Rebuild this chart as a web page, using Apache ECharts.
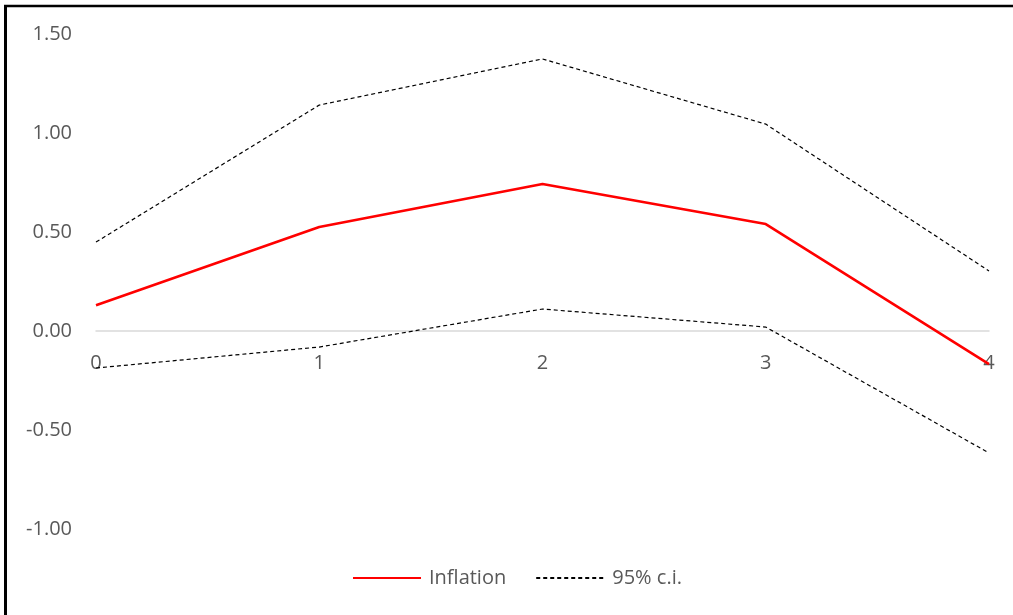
<!DOCTYPE html>
<html>
<head>
<meta charset="utf-8">
<script src="https://cdn.jsdelivr.net/npm/echarts@6/dist/echarts.min.js"></script>
<style>
  html, body { margin: 0; padding: 0; background: #ffffff; }
  #chart { width: 1013px; height: 615px; }
</style>
</head>
<body>
<div id="chart"></div>
<script>
// Horizons (periods after the shock)
const horizons = ['0', '1', '2', '3', '4'];
// Impulse response of inflation and its 95% confidence band
const inflation = [0.13, 0.525, 0.742, 0.54, -0.167];
const ciUpper = [0.449, 1.141, 1.374, 1.045, 0.303];
const ciLower = [-0.187, -0.081, 0.111, 0.02, -0.616];
// Value-axis settings
const yMin = -1.0;
const yMax = 1.5;
const yStep = 0.5;

const FONT = '"Open Sans", "Noto Sans", sans-serif';
const TEXT = '#595959';
const W = 1013, H = 615;
const GRID = { left: 96, right: 24, top: 34, bottom: 86 };

// Lift the category axis (line + labels) up to the y = 0 level
const plotH = H - GRID.top - GRID.bottom;
const zeroLift = plotH * (0 - yMin) / (yMax - yMin);

const chart = echarts.init(document.getElementById('chart'), null, { renderer: 'canvas' });

const ciStyle = { color: '#000000', width: 1.2, type: [4, 3] };

chart.setOption({
  animation: false,
  backgroundColor: '#ffffff',
  textStyle: { fontFamily: FONT, color: TEXT },
  grid: Object.assign({ containLabel: false }, GRID),
  xAxis: {
    type: 'category',
    data: horizons,
    boundaryGap: false,
    offset: -zeroLift,
    axisLine: { onZero: false, lineStyle: { color: '#d9d9d9', width: 1.5 } },
    axisTick: { show: false },
    axisLabel: { color: TEXT, fontSize: 20, fontFamily: FONT, margin: 22 },
    splitLine: { show: false }
  },
  yAxis: {
    type: 'value',
    min: yMin,
    max: yMax,
    interval: yStep,
    axisLine: { show: false },
    axisTick: { show: false },
    splitLine: { show: false },
    axisLabel: {
      color: TEXT,
      fontSize: 20,
      fontFamily: FONT,
      margin: 24,
      formatter: v => v.toFixed(2)
    }
  },
  legend: {
    bottom: 22,
    left: 347,
    itemWidth: 68,
    itemHeight: 12,
    itemGap: 29,
    itemStyle: { opacity: 0 },
    textStyle: { color: TEXT, fontSize: 20, fontFamily: FONT, padding: [0, 0, 0, 3] },
    data: ['Inflation', '95% c.i.']
  },
  series: [
    {
      name: 'Inflation',
      type: 'line',
      data: inflation,
      symbol: 'none',
      lineStyle: { color: '#ff0000', width: 2.6 },
      itemStyle: { color: '#ff0000' },
      z: 3
    },
    {
      name: '95% c.i.',
      type: 'line',
      data: ciUpper,
      symbol: 'none',
      lineStyle: ciStyle,
      itemStyle: { color: '#000000' },
      z: 2
    },
    {
      name: '95% c.i.',
      type: 'line',
      data: ciLower,
      symbol: 'none',
      lineStyle: ciStyle,
      itemStyle: { color: '#000000' },
      z: 2
    }
  ],
  graphic: [
    // frame around the chart area
    { type: 'line', shape: { x1: 5.5, y1: 6, x2: 5.5, y2: H }, style: { stroke: '#000', lineWidth: 3 } },
    { type: 'line', shape: { x1: 4, y1: 6, x2: W, y2: 6 }, style: { stroke: '#000', lineWidth: 2.5 } }
  ]
});
</script>
</body>
</html>
